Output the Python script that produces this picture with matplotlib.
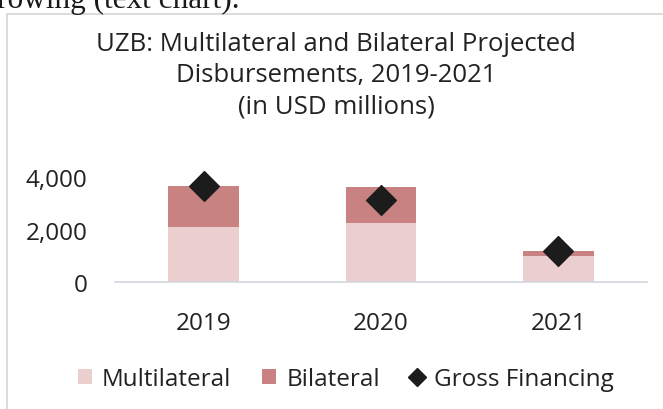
import numpy as np
import matplotlib.pyplot as plt
from matplotlib.patches import Patch, Rectangle
from matplotlib.lines import Line2D

years = ['2019', '2020', '2021']
multilateral = np.array([2100, 2250, 1010])
bilateral = np.array([1590, 1400, 170])
gross_financing = np.array([3690, 3150, 1180])
y_ticks = [0, 2000, 4000]

c_multi = '#ebcfcf'
c_bi = '#c98282'
c_gross = '#1c1c1c'
txt = '#222222'

plt.rcParams['font.family'] = ['Open Sans', 'DejaVu Sans']

fig = plt.figure(figsize=(6.63, 4.10), dpi=100)

# frame around the chart and the clipped line of body text above it
fig.patches.append(Rectangle((7 / 663, -0.1), 1.0, (410 - 15) / 410 + 0.1,
                             transform=fig.transFigure, fill=False,
                             edgecolor='#d6d6d6', linewidth=1.2))
fig.text(-0.005, 1 - 8 / 410, 'rowing (text chart).', family='Liberation Serif',
         fontsize=22.5, color='#1a1a1a', ha='left', va='baseline')

ax = fig.add_axes([115 / 663, (410 - 283) / 410, 532 / 663, 104.5 / 410])
x = np.arange(len(years))
ax.bar(x, multilateral, width=0.4, color=c_multi, zorder=2)
ax.bar(x, bilateral, width=0.4, bottom=multilateral, color=c_bi, zorder=2)
ax.scatter(x, gross_financing, marker='D', s=230, color=c_gross, zorder=3, clip_on=False)

ax.set_xlim(-0.5, 2.5)
ax.set_ylim(0, 4000)
ax.set_yticks(y_ticks)
ax.set_yticklabels([f'{v:,}' for v in y_ticks])
ax.set_xticks(x)
ax.set_xticklabels(years)
ax.tick_params(axis='y', length=0, pad=20, labelsize=17.5, labelcolor=txt)
ax.tick_params(axis='x', length=0, pad=21, labelsize=17.5, labelcolor=txt)
for s in ['top', 'right', 'left']:
    ax.spines[s].set_visible(False)
ax.spines['bottom'].set_color('#d3d6df')
ax.spines['bottom'].set_linewidth(1.2)

fig.text(336 / 663, 1 - 76 / 410,
         'UZB: Multilateral and Bilateral Projected\nDisbursements, 2019-2021\n(in USD millions)',
         ha='center', va='center', fontsize=18.5, color=txt, linespacing=1.32)

handles = [Patch(facecolor=c_multi, label='Multilateral'),
           Patch(facecolor=c_bi, label='Bilateral'),
           Line2D([], [], marker='D', linestyle='', color=c_gross, markersize=9,
                  label='Gross Financing')]
fig.legend(handles=handles, loc='center', bbox_to_anchor=(346 / 663, 1 - 380 / 410),
           ncol=3, frameon=False, fontsize=17.5, labelcolor=txt,
           handlelength=0.6, handleheight=0.6, handletextpad=0.4,
           columnspacing=1.25, borderpad=0)

fig.savefig('out.png', dpi=100, facecolor='white')
